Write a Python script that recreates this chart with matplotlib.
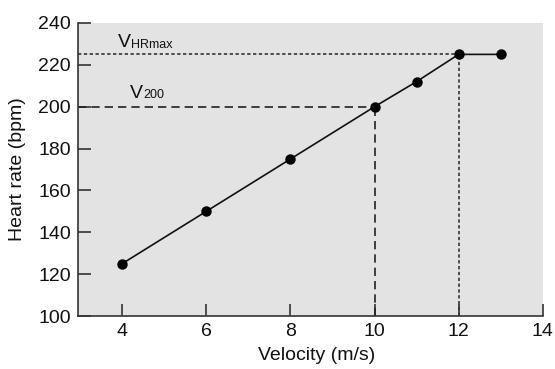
import matplotlib
matplotlib.use("Agg")
import matplotlib.pyplot as plt

plt.rcParams['font.family'] = ['Liberation Sans', 'DejaVu Sans']

velocity = [4, 6, 8, 10, 11, 12, 13]
heart_rate = [125, 150, 175, 200, 212, 225, 225]
v200 = 10
hr200 = 200
vhrmax = 12
hrmax = 225
xticks = [4, 6, 8, 10, 12, 14]
yticks = [100, 120, 140, 160, 180, 200, 220, 240]

fig = plt.figure(figsize=(5.55, 3.69), dpi=100)
ax = fig.add_axes([0.1405, 0.1436, 0.978 - 0.1405, 0.9377 - 0.1436])
ax.set_facecolor('#e3e3e3')
xmin, xmax = 2.95, 14
ymin, ymax = 100, 240
ax.set_xlim(xmin, xmax)
ax.set_ylim(ymin, ymax)

# reference lines
ax.plot([xmin, v200], [hr200, hr200], color='#222222', lw=1.2, ls=(0, (5, 3)))
ax.plot([v200, v200], [ymin, hr200], color='#222222', lw=1.2, ls=(0, (5, 3)))
ax.plot([xmin, vhrmax], [hrmax, hrmax], color='#333333', lw=1.2, ls=(0, (2, 1.5)))
ax.plot([vhrmax, vhrmax], [ymin, hrmax], color='#333333', lw=1.2, ls=(0, (2, 1.5)))

ax.plot(velocity, heart_rate, color='#111111', lw=1.2, marker='o', ms=6.5,
        markerfacecolor='black', markeredgecolor='black', zorder=5, clip_on=False)


def vlabel(x, y, sub):
    ax.annotate('V', (x, y), fontsize=14, ha='left', va='baseline', color='#111111')
    ax.annotate(sub, (x, y), xytext=(9.6, -0.5), textcoords='offset points',
                fontsize=9, ha='left', va='baseline', color='#111111')


vlabel(3.90, 228.6, 'HRmax')
vlabel(4.19, 204.3, '200')

for s in ['top', 'right']:
    ax.spines[s].set_visible(False)
for s in ['left', 'bottom']:
    ax.spines[s].set_linewidth(1.2)
    ax.spines[s].set_color('#333333')

ax.set_xticks(xticks)
ax.set_yticks(yticks)
ax.tick_params(direction='in', length=9, width=1.2, color='#333333', labelsize=14, pad=5,
               labelcolor='#111111')
ax.set_xlabel('Velocity (m/s)', fontsize=14, color='#111111')
ax.xaxis.set_label_coords(0.513, -0.106)
ax.set_ylabel('Heart rate (bpm)', fontsize=14, labelpad=9, color='#111111')

fig.savefig('out.png', dpi=100)
